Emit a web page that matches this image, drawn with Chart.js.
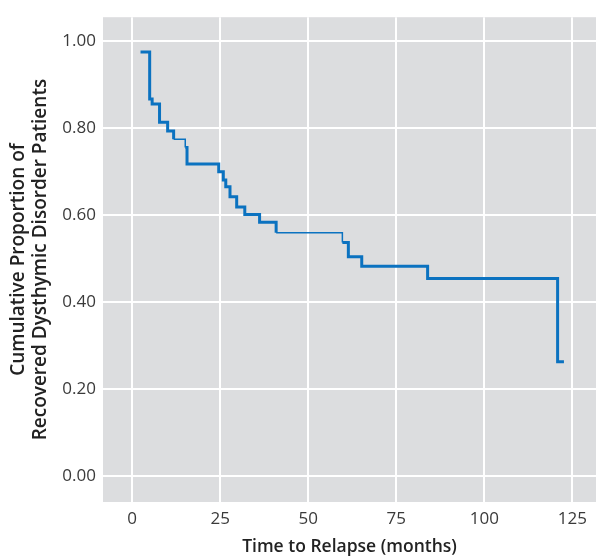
<!DOCTYPE html>
<html>
<head>
<meta charset="utf-8">
<script src="https://cdn.jsdelivr.net/npm/chart.js@4/dist/chart.umd.min.js"></script>
<style>
    html, body { margin: 0; padding: 0; background: #fff; }
    #wrap { width: 596px; height: 558px; position: relative; }
</style>
</head>
<body>
<div id="wrap"><canvas id="kmChart"></canvas></div>
<script>
    // Kaplan-Meier steps (months, proportion)
    const months = [2.4, 5.0, 5.7, 7.8, 10.1, 11.8, 15.1, 15.6, 24.6, 25.9, 26.6, 27.8, 29.7, 32.0, 36.2, 40.9, 59.7, 61.4, 65.2, 83.9, 120.8, 122.6];
    const proportion = [0.974, 0.866, 0.855, 0.813, 0.793, 0.774, 0.755, 0.717, 0.699, 0.680, 0.665, 0.642, 0.618, 0.601, 0.583, 0.559, 0.537, 0.504, 0.482, 0.454, 0.263, 0.263];
    const xTicks = [0, 25, 50, 75, 100, 125];
    const yTicks = [0, 0.2, 0.4, 0.6, 0.8, 1.0];

    // stretches drawn with the thinner line in the original
    const thinStarts = [11.8, 40.9];

    const points = months.map((m, i) => ({ x: m, y: proportion[i] }));

    // grey panel behind the plot
    const panelBg = {
        id: 'panelBg',
        beforeDraw(chart) {
            const { ctx, chartArea: a } = chart;
            ctx.save();
            ctx.fillStyle = '#dcdddf';
            ctx.fillRect(a.left, a.top, a.right - a.left, a.bottom - a.top);
            ctx.restore();
        }
    };

    const font = "'Open Sans', 'Noto Sans', sans-serif";

    new Chart(document.getElementById('kmChart'), {
        type: 'line',
        data: {
            datasets: [{
                data: points,
                stepped: 'before',
                borderColor: '#0b72c0',
                borderWidth: 3,
                pointRadius: 0,
                fill: false,
                segment: {
                    borderWidth: ctx => thinStarts.includes(ctx.p0.parsed.x) ? 1.5 : 3
                }
            }]
        },
        options: {
            responsive: true,
            maintainAspectRatio: false,
            animation: false,
            layout: { padding: { top: 9, right: 0, left: 0, bottom: 0 } },
            plugins: {
                legend: { display: false },
                tooltip: { enabled: false }
            },
            scales: {
                x: {
                    type: 'linear',
                    min: -8.25,
                    max: 131.7,
                    afterBuildTicks: s => { s.ticks = xTicks.map(v => ({ value: v })); },
                    afterFit: s => { s.height = 56; },
                    border: { display: false },
                    grid: { color: '#ffffff', lineWidth: 2, drawTicks: false },
                    ticks: {
                        padding: 7,
                        color: '#3a3a3a',
                        font: { family: font, size: 17 }
                    },
                    title: {
                        display: true,
                        text: 'Time to Relapse (months)',
                        color: '#222222',
                        padding: { top: 4, bottom: 0 },
                        font: { family: font, size: 17.5, weight: '600' }
                    }
                },
                y: {
                    min: -0.059,
                    max: 1.054,
                    afterBuildTicks: s => { s.ticks = yTicks.map(v => ({ value: v })); },
                    afterFit: s => { s.width = 103; },
                    border: { display: false },
                    grid: { color: '#ffffff', lineWidth: 2, drawTicks: false },
                    ticks: {
                        padding: 7,
                        color: '#3a3a3a',
                        font: { family: font, size: 17 },
                        callback: v => v.toFixed(2)
                    },
                    title: {
                        display: true,
                        text: ['Cumulative Proportion of', 'Recovered Dysthymic Disorder Patients'],
                        color: '#222222',
                        padding: { top: 8, bottom: 0 },
                        font: { family: font, size: 19, weight: '600', lineHeight: 1.15 }
                    }
                }
            }
        },
        plugins: [panelBg]
    });
</script>
</body>
</html>
